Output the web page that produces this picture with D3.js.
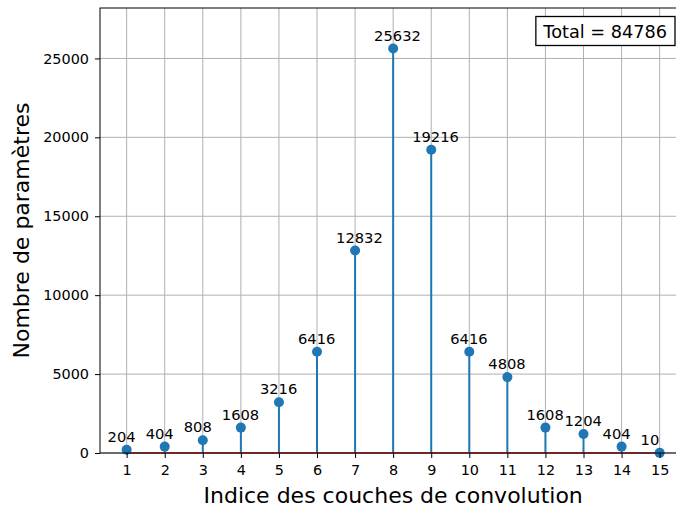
<!DOCTYPE html>
<html><head><meta charset="utf-8">
<script src="https://cdn.jsdelivr.net/npm/d3@7"></script>
<style>body{margin:0;background:#fff}svg{display:block}text{font-family:"DejaVu Sans",sans-serif}</style>
</head><body>
<svg id="c" width="676" height="509"></svg>
<script>
const layers = [1,2,3,4,5,6,7,8,9,10,11,12,13,14,15];
const params = [204,404,808,1608,3216,6416,12832,25632,19216,6416,4808,1608,1204,404,10];
const yTicks = [0,5000,10000,15000,20000,25000];
const total = 84786;

(function(){
const svg = d3.select("#c");
const mLeft = 100, mTop = 8, mBottom = 453;
const xMin = 0.3, xMax = 15.7;
const x = d3.scaleLinear().domain([xMin, xMax]).range([mLeft, mLeft + (660-127)/14*15.4]);
const yMaxV = d3.max(params) * 1.1;
const y = d3.scaleLinear().domain([0, yMaxV]).range([mBottom, mTop]);
const mRight = x(xMax);

const g = svg.append("g");
g.selectAll(".gx").data(layers).enter().append("line")
  .attr("x1", d => x(d)).attr("x2", d => x(d)).attr("y1", mTop).attr("y2", mBottom)
  .attr("stroke", "#b0b0b0").attr("stroke-width", 1);
g.selectAll(".gy").data(yTicks).enter().append("line")
  .attr("x1", mLeft).attr("x2", mRight).attr("y1", d => y(d)).attr("y2", d => y(d))
  .attr("stroke", "#b0b0b0").attr("stroke-width", 1);

g.selectAll(".stem").data(params).enter().append("line")
  .attr("x1", (d,i) => x(layers[i])).attr("x2", (d,i) => x(layers[i]))
  .attr("y1", y(0)).attr("y2", d => y(d))
  .attr("stroke", "#1f77b4").attr("stroke-width", 2);
g.append("line").attr("x1", x(1)).attr("x2", x(15)).attr("y1", y(0)).attr("y2", y(0))
  .attr("stroke", "#d62728").attr("stroke-width", 1.5);
g.selectAll(".mk").data(params).enter().append("circle")
  .attr("cx", (d,i) => x(layers[i])).attr("cy", d => y(d)).attr("r", 5)
  .attr("fill", "#1f77b4");
// value labels: left-aligned at (layer - 0.5, value + 500)
g.selectAll(".lb").data(params).enter().append("text")
  .attr("x", (d,i) => x(layers[i] - 0.5)).attr("y", d => y(d + 500))
  .attr("text-anchor", "start").attr("font-size", 14.7).attr("fill", "#000")
  .text(d => d);

const xAxis = d3.axisBottom(x).tickValues(layers).tickSize(5).tickPadding(7).tickFormat(d3.format("d"));
const yAxis = d3.axisLeft(y).tickValues(yTicks).tickSize(5).tickPadding(6).tickFormat(d3.format("d"));
const ax = svg.append("g").attr("transform", `translate(0,${mBottom})`).call(xAxis);
const ay = svg.append("g").attr("transform", `translate(${mLeft},0)`).call(yAxis);
[ax, ay].forEach(a => {
  a.select(".domain").remove();
  a.selectAll("text").attr("font-size", 14.4).attr("fill", "#000").attr("font-family", "DejaVu Sans");
  a.selectAll("line").attr("stroke", "#000").attr("stroke-width", 1);
});
svg.append("rect").attr("x", mLeft).attr("y", mTop).attr("width", mRight-mLeft).attr("height", mBottom-mTop)
  .attr("fill", "none").attr("stroke", "#000").attr("stroke-width", 1);

svg.append("text").attr("x", (mLeft+mRight)/2).attr("y", 503).attr("text-anchor", "middle")
  .attr("font-size", 22).text("Indice des couches de convolution");
svg.append("text").attr("transform", `translate(29,${(mTop+mBottom)/2}) rotate(-90)`)
  .attr("text-anchor", "middle").attr("font-size", 22).text("Nombre de paramètres");

const tb = svg.append("g");
const tt = tb.append("text").attr("x", 667).attr("y", 37.5).attr("text-anchor", "end")
  .attr("font-size", 17.7).text("Total = " + total);
const bb = tt.node().getBBox();
tb.insert("rect", "text").attr("x", bb.x - 6.5).attr("y", 16.5).attr("width", bb.width + 14.5).attr("height", 29)
  .attr("fill", "#fff").attr("stroke", "#000").attr("stroke-width", 1.3);
})();
</script>
</body></html>
